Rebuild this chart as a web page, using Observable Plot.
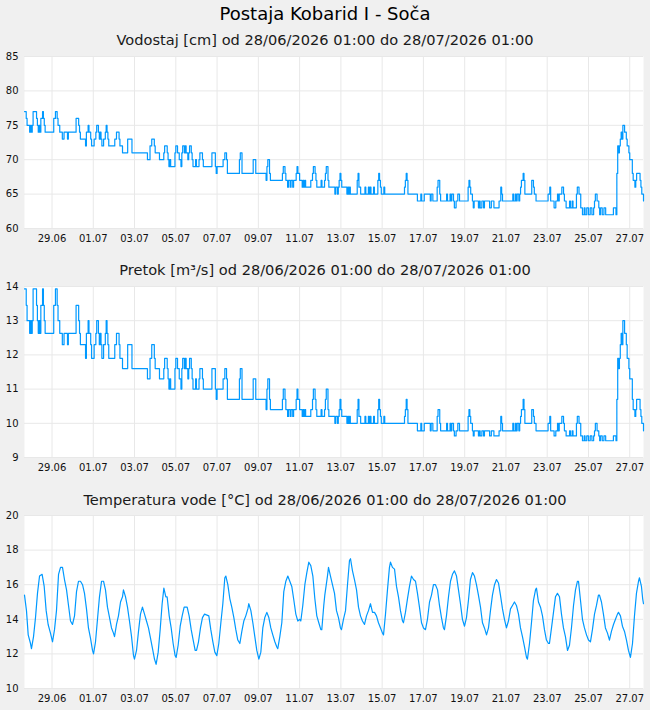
<!DOCTYPE html>
<html><head><meta charset="utf-8">
<script src="https://cdn.jsdelivr.net/npm/d3@7"></script>
<script src="https://cdn.jsdelivr.net/npm/@observablehq/plot@0.6"></script>
<style>
html,body{margin:0;padding:0;background:#f0f0f0;overflow:hidden;width:650px;height:710px;font-family:"DejaVu Sans",sans-serif;}
.t{position:absolute;left:0;width:650px;text-align:center;white-space:nowrap;}
#title{top:2px;font-size:18px;line-height:24px;color:#000;}
.sub{font-size:14.6px;line-height:20px;color:#1a1a1a;}
.p{position:absolute;left:0;}
</style></head>
<body>
<div id="title" class="t">Postaja Kobarid I - Soča</div>
<div class="t sub" style="top:30px">Vodostaj [cm] od 28/06/2026 01:00 do 28/07/2026 01:00</div>
<div id="p1" class="p" style="top:48px"></div>
<div class="t sub" style="top:260px">Pretok [m³/s] od 28/06/2026 01:00 do 28/07/2026 01:00</div>
<div id="p2" class="p" style="top:278px"></div>
<div class="t sub" style="top:490px">Temperatura vode [°C] od 28/06/2026 01:00 do 28/07/2026 01:00</div>
<div id="p3" class="p" style="top:507px"></div>
<script>
// x tick labels (dates, UTC midnight)
const xTickDays = ["2026-06-29","2026-07-01","2026-07-03","2026-07-05","2026-07-07","2026-07-09","2026-07-11","2026-07-13","2026-07-15","2026-07-17","2026-07-19","2026-07-21","2026-07-23","2026-07-25","2026-07-27"];
const levelTicks = [60,65,70,75,80,85];
const flowTicks = [9,10,11,12,13,14];
const tempTicks = [10,12,14,16,18,20];

// Vodostaj [cm]: [hour since start, value]
const levelSeries = [[0,77],[2,76],[3,75],[6,74],[7,75],[8,74],[9,75],[10,77],[14,76],[15,75],[16,74],[17,75],[18,74],[19,76],[21,77],[22,76],[23,75],[24,74],[34,76],[36,77],[38,76],[39,75],[41,74],[44,73],[46,74],[49,74],[50,73],[51,74],[60,76],[63,75],[64,74],[65,73],[71,72],[72,74],[74,75],[75,74],[77,73],[78,72],[81,73],[83,74],[84,75],[86,74],[87,73],[88,74],[89,73],[90,72],[92,73],[94,74],[95,75],[96,74],[97,73],[98,72],[105,73],[107,74],[110,73],[111,72],[114,71],[120,73],[125,71],[143,70],[146,72],[148,73],[151,72],[152,71],[157,70],[162,71],[163,72],[166,71],[167,70],[168,69],[169,70],[170,69],[175,71],[176,72],[178,71],[180,70],[182,69],[183,71],[184,72],[186,71],[187,72],[188,71],[190,70],[191,71],[192,72],[194,71],[195,70],[196,69],[199,70],[200,69],[203,70],[204,71],[207,70],[208,69],[218,71],[222,69],[223,68],[224,69],[231,70],[233,71],[235,70],[236,68],[250,70],[251,71],[253,68],[266,70],[269,68],[281,67],[282,69],[283,70],[285,68],[286,67],[300,68],[301,69],[303,68],[304,67],[306,66],[307,67],[309,66],[310,67],[312,66],[313,67],[316,68],[317,69],[318,68],[320,67],[323,66],[324,67],[325,66],[326,67],[327,66],[333,67],[335,68],[336,69],[338,68],[339,67],[340,66],[345,67],[346,66],[349,67],[350,68],[351,69],[353,67],[354,66],[361,65],[362,66],[364,65],[365,66],[366,67],[367,68],[368,67],[369,66],[375,65],[376,66],[377,65],[378,66],[379,65],[387,67],[388,68],[389,66],[391,65],[396,66],[397,65],[400,66],[401,65],[402,66],[403,65],[406,66],[407,65],[411,67],[412,68],[413,67],[414,66],[415,65],[418,66],[419,65],[442,66],[443,67],[444,68],[445,67],[446,65],[457,64],[461,65],[462,64],[465,65],[472,64],[473,65],[475,64],[480,66],[481,67],[483,65],[484,64],[491,65],[492,64],[495,65],[496,64],[497,65],[499,64],[500,63],[502,64],[504,65],[506,64],[516,66],[517,67],[518,66],[519,65],[521,64],[522,63],[523,64],[528,63],[529,64],[530,63],[532,64],[534,63],[535,64],[541,63],[543,64],[546,63],[552,64],[554,66],[555,65],[556,64],[568,65],[569,64],[571,65],[572,64],[573,65],[575,64],[576,65],[577,66],[578,67],[580,68],[581,67],[582,65],[590,67],[592,66],[593,65],[595,64],[609,65],[611,66],[612,64],[616,63],[618,64],[620,65],[621,64],[622,65],[625,66],[627,65],[628,64],[630,63],[634,64],[635,63],[637,64],[638,63],[642,65],[643,66],[645,65],[647,63],[649,62],[651,63],[652,62],[654,63],[656,62],[658,63],[660,62],[662,63],[663,64],[664,65],[666,64],[668,63],[669,62],[670,63],[672,62],[674,63],[676,62],[685,63],[688,62],[689,68],[690,72],[691,71],[692,72],[693,73],[694,74],[695,73],[696,75],[698,74],[700,73],[701,72],[703,71],[704,70],[707,68],[708,67],[710,66],[711,67],[712,68],[716,67],[717,66],[718,65],[720,64]];

// Pretok [m3/s]: [hour since start, value]
const flowSeries = [[0,13.93],[2,13.45],[3,13.0],[6,12.63],[7,13.0],[8,12.63],[9,13.0],[10,13.93],[14,13.45],[15,13.0],[16,12.63],[17,13.0],[18,12.63],[19,13.45],[21,13.93],[22,13.45],[23,13.0],[24,12.63],[34,13.45],[36,13.93],[38,13.45],[39,13.0],[41,12.63],[44,12.3],[46,12.63],[49,12.63],[50,12.3],[51,12.63],[60,13.45],[63,13.0],[64,12.63],[65,12.3],[71,11.9],[72,12.63],[74,13.0],[75,12.63],[77,12.3],[78,11.9],[81,12.3],[83,12.63],[84,13.0],[86,12.63],[87,12.3],[88,12.63],[89,12.3],[90,11.9],[92,12.3],[94,12.63],[95,13.0],[96,12.63],[97,12.3],[98,11.9],[105,12.3],[107,12.63],[110,12.3],[111,11.9],[114,11.6],[120,12.3],[125,11.6],[143,11.3],[146,11.9],[148,12.3],[151,11.9],[152,11.6],[157,11.3],[162,11.6],[163,11.9],[166,11.6],[167,11.3],[168,11.0],[169,11.3],[170,11.0],[175,11.6],[176,11.9],[178,11.6],[180,11.3],[182,11.0],[183,11.6],[184,11.9],[186,11.6],[187,11.9],[188,11.6],[190,11.3],[191,11.6],[192,11.9],[194,11.6],[195,11.3],[196,11.0],[199,11.3],[200,11.0],[203,11.3],[204,11.6],[207,11.3],[208,11.0],[218,11.6],[222,11.0],[223,10.7],[224,11.0],[231,11.3],[233,11.6],[235,11.3],[236,10.7],[250,11.3],[251,11.6],[253,10.7],[266,11.3],[269,10.7],[281,10.4],[282,11.0],[283,11.3],[285,10.7],[286,10.4],[300,10.7],[301,11.0],[303,10.7],[304,10.4],[306,10.2],[307,10.4],[309,10.2],[310,10.4],[312,10.2],[313,10.4],[316,10.7],[317,11.0],[318,10.7],[320,10.4],[323,10.2],[324,10.4],[325,10.2],[326,10.4],[327,10.2],[333,10.4],[335,10.7],[336,11.0],[338,10.7],[339,10.4],[340,10.2],[345,10.4],[346,10.2],[349,10.4],[350,10.7],[351,11.0],[353,10.4],[354,10.2],[361,10.0],[362,10.2],[364,10.0],[365,10.2],[366,10.4],[367,10.7],[368,10.4],[369,10.2],[375,10.0],[376,10.2],[377,10.0],[378,10.2],[379,10.0],[387,10.4],[388,10.7],[389,10.2],[391,10.0],[396,10.2],[397,10.0],[400,10.2],[401,10.0],[402,10.2],[403,10.0],[406,10.2],[407,10.0],[411,10.4],[412,10.7],[413,10.4],[414,10.2],[415,10.0],[418,10.2],[419,10.0],[442,10.2],[443,10.4],[444,10.7],[445,10.4],[446,10.0],[457,9.78],[461,10.0],[462,9.78],[465,10.0],[472,9.78],[473,10.0],[475,9.78],[480,10.2],[481,10.4],[483,10.0],[484,9.78],[491,10.0],[492,9.78],[495,10.0],[496,9.78],[497,10.0],[499,9.78],[500,9.63],[502,9.78],[504,10.0],[506,9.78],[516,10.2],[517,10.4],[518,10.2],[519,10.0],[521,9.78],[522,9.63],[523,9.78],[528,9.63],[529,9.78],[530,9.63],[532,9.78],[534,9.63],[535,9.78],[541,9.63],[543,9.78],[546,9.63],[552,9.78],[554,10.2],[555,10.0],[556,9.78],[568,10.0],[569,9.78],[571,10.0],[572,9.78],[573,10.0],[575,9.78],[576,10.0],[577,10.2],[578,10.4],[580,10.7],[581,10.4],[582,10.0],[590,10.4],[592,10.2],[593,10.0],[595,9.78],[609,10.0],[611,10.2],[612,9.78],[616,9.63],[618,9.78],[620,10.0],[621,9.78],[622,10.0],[625,10.2],[627,10.0],[628,9.78],[630,9.63],[634,9.78],[635,9.63],[637,9.78],[638,9.63],[642,10.0],[643,10.2],[645,10.0],[647,9.63],[649,9.49],[651,9.63],[652,9.49],[654,9.63],[656,9.49],[658,9.63],[660,9.49],[662,9.63],[663,9.78],[664,10.0],[666,9.78],[668,9.63],[669,9.49],[670,9.63],[672,9.49],[674,9.63],[676,9.49],[685,9.63],[688,9.49],[689,10.7],[690,11.9],[691,11.6],[692,11.9],[693,12.3],[694,12.63],[695,12.3],[696,13.0],[698,12.63],[700,12.3],[701,11.9],[703,11.6],[704,11.3],[707,10.7],[708,10.4],[710,10.2],[711,10.4],[712,10.7],[716,10.4],[717,10.2],[718,10.0],[720,9.78]];

// Temperatura vode [°C]: [hour since start, value]
const tempSeries = [[0,15.4],[2.3,14.5],[4.3,13.1],[7,12.6],[8.1,12.3],[10.5,13.0],[12.8,14.1],[15.1,15.5],[17.5,16.5],[20.5,16.6],[22.9,15.9],[25.2,14.5],[27.5,13.7],[30.2,13.2],[32.6,12.7],[34.9,13.4],[37.2,14.5],[39.6,16.6],[41.9,17.0],[44.2,17.0],[46.5,16.3],[48.9,15.7],[51.2,14.8],[53.5,13.9],[55.8,13.7],[58.2,14.2],[60.5,15.6],[62.8,16.2],[65.1,16.2],[67.5,16.0],[69.8,15.5],[72.1,14.6],[74.4,13.5],[76.8,12.9],[79.1,12.2],[80.3,12.0],[82.6,12.7],[84.9,14.0],[87.2,15.3],[89.6,16.2],[91.9,16.2],[94.2,15.7],[96.5,14.7],[98.9,14.1],[101.2,13.5],[103.5,13.2],[104.7,13.0],[107,13.7],[109.3,14.2],[111.7,15.0],[114,15.3],[115.1,15.7],[117.5,15.3],[119.8,14.7],[122.1,13.9],[124.5,13.0],[126.8,11.9],[127.9,11.7],[130.3,12.2],[132.6,13.3],[134.9,14.3],[137.2,14.7],[139.6,14.3],[141.9,13.9],[144.2,13.5],[146.6,12.9],[148.9,12.3],[151.2,11.7],[153.1,11.4],[155.5,12.1],[157.8,13.4],[160.1,14.9],[162.1,15.8],[164.4,15.3],[165.9,15.3],[168.3,14.2],[170.6,13.5],[172.9,12.6],[175.2,11.9],[176.4,11.8],[178.7,12.5],[181.1,13.6],[183.4,14.2],[185.7,14.7],[189.2,14.7],[191.5,14.2],[193.9,13.4],[196.2,12.8],[198.5,12.2],[200.1,12.2],[202.4,12.7],[204.7,13.5],[207,14.1],[209.4,14.3],[214.4,14.2],[216.7,13.4],[219.1,12.7],[221.4,12.1],[223.7,11.9],[226,12.6],[228.4,13.8],[230.7,14.9],[233,16.4],[234.2,16.5],[236.5,16.0],[238.8,15.2],[241.1,14.7],[243.5,14.1],[245.8,13.4],[248.1,12.8],[250.5,12.6],[252.8,13.3],[255.1,13.9],[257.4,14.2],[259.8,14.6],[260.9,14.9],[263.3,14.5],[265.6,13.8],[267.9,13.0],[270.2,12.2],[272.6,11.7],[274.9,12.1],[277.2,13.5],[279.5,14.1],[281.9,14.4],[284.2,14.1],[286.5,13.5],[288.8,13.1],[291.2,12.7],[293.5,12.4],[294.6,12.3],[297,13.0],[299.3,13.8],[301.6,15.6],[304,16.2],[306.3,16.5],[308.6,16.2],[310.9,15.9],[313.3,15.1],[315.6,14.3],[317.9,13.9],[320.2,14.0],[321.4,13.9],[323.7,14.8],[326.1,16.0],[328.4,16.7],[330.7,17.3],[333,17.1],[335.4,16.5],[337.7,15.2],[340,14.2],[342.3,13.8],[344.7,13.4],[345.8,13.4],[348.1,14.8],[349.3,15.4],[352.4,16.5],[353.6,17.0],[355.9,16.5],[358.2,16.0],[360.6,15.5],[362.9,14.5],[365.2,14.1],[367.5,13.5],[368.7,13.4],[371,14.0],[373.4,14.5],[375.7,16.0],[378,17.4],[379.2,17.5],[381.5,16.8],[383.8,16.3],[386.2,15.7],[388.5,14.7],[390.8,14.2],[393.1,13.9],[395.5,13.7],[397.8,14.2],[400.1,14.5],[402.4,14.9],[404.8,14.4],[407.1,14.4],[409.4,14.2],[411.7,13.8],[414.1,13.5],[416.4,13.2],[417.6,13.1],[419.9,14.3],[422.2,15.7],[424.5,17.0],[425.7,17.3],[428,17.0],[430.4,16.9],[432.7,15.9],[435,15.3],[437.3,14.5],[439.7,13.9],[440.8,13.8],[443.1,14.4],[445.5,15.2],[447.8,15.9],[450.1,16.5],[452.5,16.3],[454.8,16.2],[457.1,15.5],[459.4,14.7],[461.8,13.8],[464.1,13.5],[466.4,13.4],[468.7,14.0],[471.1,15.0],[473.4,15.4],[475.7,16.0],[478,16.0],[480.4,15.7],[482.7,14.8],[485,14.1],[487.3,13.5],[488.5,13.4],[490.8,14.2],[493.2,15.3],[495.5,16.2],[497.8,16.6],[500.1,16.8],[502.5,16.5],[504.8,15.7],[507.1,14.9],[509.4,14.0],[511.8,13.6],[514.1,14.1],[516.4,15.1],[518.7,16.3],[521.1,16.7],[523.4,16.5],[525.7,16.0],[528,15.4],[530.4,14.7],[532.7,13.8],[535,13.5],[537.4,13.1],[539.7,13.5],[542,14.5],[544.3,15.4],[546.7,16.0],[549,16.3],[551.3,16.1],[553.6,15.4],[556,14.6],[558.3,14.0],[560.6,13.5],[562.9,13.9],[565.3,14.6],[567.6,14.8],[569.9,15.0],[572.2,14.8],[574.6,14.3],[576.9,13.5],[579.2,13.0],[581.6,12.4],[583.9,11.8],[585,11.7],[587.4,12.6],[589.7,13.8],[592,15.1],[594.4,15.7],[595.5,15.8],[597.8,15.0],[600.2,14.7],[602.5,14.2],[604.8,13.4],[607.1,12.8],[609.5,12.6],[610.6,12.6],[613,13.5],[615.3,14.4],[617.6,15.3],[619.9,15.5],[622.3,15.3],[624.6,14.3],[626.9,13.5],[629.2,13.0],[631.6,12.2],[633.9,12.5],[636.2,13.5],[638.6,14.8],[640.9,15.7],[643.2,16.2],[644.4,16.2],[646.7,15.1],[649,14.0],[651.3,13.5],[653.7,13.1],[656,12.8],[658.3,12.7],[660.6,13.4],[663,14.3],[665.3,14.8],[667.6,15.4],[668.8,15.4],[671.1,15.0],[673.4,14.3],[675.7,13.5],[678.1,13.2],[680.4,12.8],[682.7,13.3],[685.1,13.7],[687.4,14.0],[689.7,14.3],[690.9,14.4],[693.2,14.2],[695.5,13.6],[697.9,13.3],[700.2,12.8],[702.5,12.2],[704.8,11.8],[707.2,12.6],[709.5,14.2],[711.8,15.5],[714.2,16.2],[715.3,16.4],[717.6,15.9],[719,15.2],[720,14.9]];

const startMs = Date.UTC(2026, 5, 27, 16);
const endMs = startMs + 720 * 3600000;
const toRows = pairs => pairs.map(([h, v]) => ({t: new Date(startMs + h * 3600000), v}));
const xTicks = xTickDays.map(s => new Date(s + "T00:00:00Z"));
const fmt = d3.utcFormat("%d.%m");
const BLUE = "#0099ff";
const GRID = "#e8e8e8";

function panel(el, series, yDomain, yTicks, curve, plotHeight) {
  const rows = toRows(series);
  const marginTop = 8, marginBottom = 22;
  const chart = Plot.plot({
    width: 650, height: marginTop + plotHeight + marginBottom,
    marginLeft: 24, marginRight: 7, marginTop, marginBottom,
    style: {background: "transparent", fontFamily: "DejaVu Sans, sans-serif", fontSize: "10px", color: "#111", overflow: "visible"},
    x: {type: "utc", domain: [new Date(startMs), new Date(endMs)], ticks: xTicks, tickFormat: fmt, tickSize: 0, tickPadding: 6, label: null},
    y: {domain: yDomain, ticks: yTicks, tickFormat: d => String(d), tickSize: 0, tickPadding: 6, label: null},
    marks: [
      Plot.frame({fill: "white", stroke: null}),
      Plot.gridX(xTicks, {stroke: GRID, strokeOpacity: 1, strokeWidth: 1}),
      Plot.gridY(yTicks, {stroke: GRID, strokeOpacity: 1, strokeWidth: 1}),
      Plot.line(rows, {x: "t", y: "v", stroke: BLUE, strokeWidth: 1.2, curve})
    ]
  });
  document.getElementById(el).appendChild(chart);
}
panel("p1", levelSeries, [60, 85], levelTicks, "step-after", 172);
panel("p2", flowSeries, [9, 14], flowTicks, "step-after", 171);
panel("p3", tempSeries, [10, 20], tempTicks, "linear", 173);
</script>
</body></html>
